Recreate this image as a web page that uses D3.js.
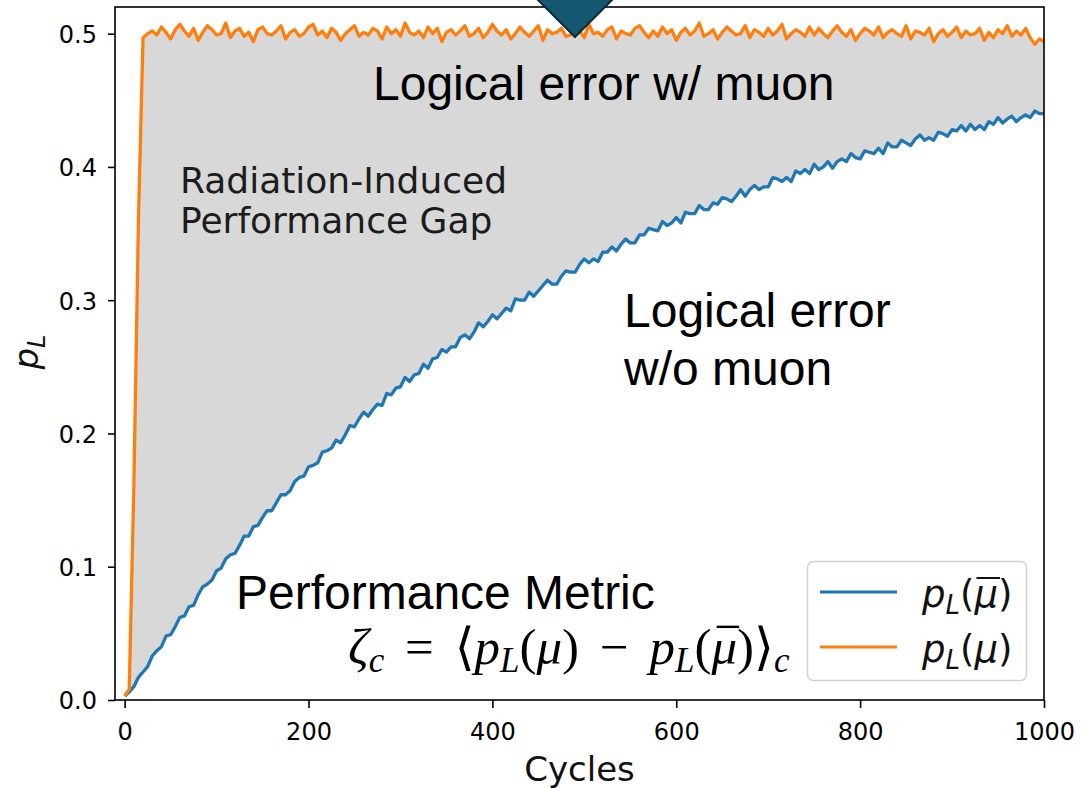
<!DOCTYPE html>
<html>
<head>
<meta charset="utf-8">
<script src="https://cdn.jsdelivr.net/npm/d3@7"></script>
<style>
  html, body { margin: 0; padding: 0; background: #fff; }
  svg { display: block; }
</style>
</head>
<body>
<div id="chart"></div>
<script>
// ---------- data ----------
const cycles = d3.range(0, 1001, 5); // sampled every 5 cycles

const pLNoMuon = [
0.003,0.006,0.010,0.017,0.021,0.025,0.033,0.037,0.040,0.048,
0.049,0.055,0.062,0.063,0.070,0.071,0.079,0.085,0.087,0.090,
0.097,0.099,0.106,0.109,0.110,0.116,0.123,0.123,0.130,0.131,
0.137,0.142,0.142,0.148,0.154,0.154,0.157,0.164,0.167,0.168,
0.175,0.176,0.178,0.186,0.187,0.189,0.195,0.193,0.199,0.206,
0.205,0.211,0.216,0.213,0.218,0.222,0.221,0.230,0.229,0.234,
0.235,0.242,0.239,0.244,0.245,0.252,0.249,0.256,0.257,0.263,
0.261,0.265,0.265,0.272,0.274,0.271,0.276,0.283,0.280,0.284,
0.289,0.286,0.290,0.294,0.292,0.301,0.300,0.300,0.306,0.303,
0.307,0.311,0.315,0.312,0.312,0.318,0.322,0.321,0.321,0.327,
0.331,0.328,0.331,0.329,0.336,0.336,0.340,0.337,0.342,0.346,
0.343,0.343,0.349,0.349,0.354,0.353,0.352,0.359,0.356,0.358,
0.362,0.358,0.366,0.365,0.365,0.371,0.368,0.368,0.373,0.372,
0.377,0.376,0.374,0.378,0.383,0.378,0.383,0.386,0.383,0.385,
0.385,0.392,0.391,0.389,0.392,0.389,0.397,0.395,0.398,0.395,
0.402,0.398,0.400,0.404,0.399,0.404,0.406,0.404,0.410,0.407,
0.406,0.412,0.411,0.410,0.414,0.410,0.418,0.415,0.415,0.420,
0.418,0.416,0.421,0.424,0.420,0.422,0.420,0.426,0.425,0.423,
0.428,0.427,0.431,0.427,0.432,0.428,0.431,0.428,0.434,0.432,
0.437,0.433,0.436,0.438,0.434,0.437,0.439,0.437,0.442,0.440,
0.440
];

const pLMuon = [
0.003,0.008,0.160,0.360,0.497,0.500,0.502,0.499,0.505,0.501,
0.496,0.503,0.507,0.502,0.498,0.504,0.495,0.501,0.506,0.503,
0.499,0.500,0.508,0.497,0.502,0.504,0.498,0.501,0.494,0.503,
0.505,0.500,0.499,0.502,0.506,0.496,0.501,0.503,0.498,0.500,
0.505,0.507,0.499,0.502,0.497,0.504,0.501,0.495,0.500,0.503,
0.506,0.498,0.501,0.499,0.504,0.502,0.496,0.505,0.500,0.503,
0.498,0.508,0.501,0.499,0.502,0.497,0.505,0.500,0.504,0.494,
0.501,0.503,0.499,0.502,0.506,0.498,0.500,0.504,0.497,0.501,
0.507,0.502,0.499,0.503,0.496,0.500,0.505,0.501,0.498,0.502,
0.506,0.495,0.503,0.500,0.501,0.504,0.498,0.499,0.505,0.502,
0.497,0.507,0.500,0.501,0.498,0.503,0.505,0.496,0.502,0.500,
0.499,0.504,0.506,0.501,0.497,0.502,0.498,0.505,0.500,0.503,
0.495,0.501,0.504,0.499,0.502,0.508,0.498,0.500,0.503,0.496,
0.501,0.505,0.502,0.499,0.500,0.506,0.497,0.503,0.501,0.498,
0.504,0.499,0.502,0.507,0.496,0.500,0.503,0.501,0.498,0.505,
0.499,0.504,0.500,0.497,0.502,0.506,0.501,0.498,0.503,0.495,
0.500,0.504,0.502,0.499,0.505,0.497,0.501,0.503,0.500,0.498,
0.506,0.496,0.502,0.501,0.499,0.504,0.494,0.500,0.503,0.498,
0.501,0.505,0.497,0.502,0.499,0.500,0.504,0.495,0.501,0.497,
0.503,0.500,0.506,0.498,0.502,0.499,0.504,0.497,0.492,0.496,
0.494
];

const xTicks = [0, 200, 400, 600, 800, 1000];
const yTicks = [0.0, 0.1, 0.2, 0.3, 0.4, 0.5];
const xLabel = "Cycles";
const seriesColors = { noMuon: "#1f77b4", muon: "#ff7f0e" };

// ---------- layout ----------
const W = 1081, H = 788;
const plot = { left: 115, right: 1044, top: 7, bottom: 700 };

const svg = d3.select("#chart").append("svg")
  .attr("width", W).attr("height", H);

const x = d3.scaleLinear().domain([-10.5, 1000]).range([plot.left, plot.right]);
const y = d3.scaleLinear().domain([0, 0.52]).range([plot.bottom, plot.top]);

const data = cycles.map((c, i) => ({ c, lo: pLNoMuon[i], hi: pLMuon[i] }));

svg.append("defs").append("clipPath").attr("id", "clip")
  .append("rect")
  .attr("x", plot.left).attr("y", plot.top)
  .attr("width", plot.right - plot.left).attr("height", plot.bottom - plot.top);

const g = svg.append("g").attr("clip-path", "url(#clip)");

// shaded gap
g.append("path")
  .datum(data)
  .attr("fill", "#d8d8d8")
  .attr("d", d3.area().x(d => x(d.c)).y0(d => y(d.lo)).y1(d => y(d.hi)));

// lines
const lineLo = d3.line().x(d => x(d.c)).y(d => y(d.lo));
const lineHi = d3.line().x(d => x(d.c)).y(d => y(d.hi));
g.append("path").datum(data)
  .attr("fill", "none").attr("stroke", seriesColors.noMuon)
  .attr("stroke-width", 3.3).attr("stroke-linejoin", "round")
  .attr("d", lineLo);
g.append("path").datum(data)
  .attr("fill", "none").attr("stroke", seriesColors.muon)
  .attr("stroke-width", 3.3).attr("stroke-linejoin", "round")
  .attr("d", lineHi);

// axes
const fontAxis = "'DejaVu Sans', sans-serif";
const xAxis = svg.append("g")
  .attr("transform", `translate(0,${plot.bottom})`)
  .call(d3.axisBottom(x).tickValues(xTicks).tickSize(8).tickSizeOuter(0).tickFormat(d3.format("d")));
xAxis.select(".domain").remove();
xAxis.selectAll(".tick line").attr("stroke", "#000").attr("stroke-width", 1.6);
xAxis.selectAll(".tick text")
  .attr("y", 40).attr("dy", null)
  .attr("font-family", fontAxis).attr("font-size", 24).attr("fill", "#000");

const yAxis = svg.append("g")
  .attr("transform", `translate(${plot.left},0)`)
  .call(d3.axisLeft(y).tickValues(yTicks).tickSize(7).tickSizeOuter(0).tickFormat(d3.format(".1f")));
yAxis.select(".domain").remove();
yAxis.selectAll(".tick line").attr("stroke", "#000").attr("stroke-width", 1.6);
yAxis.selectAll(".tick text")
  .attr("x", -18).attr("dy", "0.37em")
  .attr("font-family", fontAxis).attr("font-size", 24).attr("fill", "#000");

// frame
svg.append("rect")
  .attr("x", plot.left).attr("y", plot.top)
  .attr("width", plot.right - plot.left).attr("height", plot.bottom - plot.top)
  .attr("fill", "none").attr("stroke", "#000").attr("stroke-width", 1.6);

// axis labels
svg.append("text")
  .attr("x", (plot.left + plot.right) / 2).attr("y", 781)
  .attr("text-anchor", "middle")
  .attr("font-family", fontAxis).attr("font-size", 34).attr("fill", "#111")
  .text(xLabel);

const yl = svg.append("text")
  .attr("transform", "translate(38,352) rotate(-90)")
  .attr("text-anchor", "middle")
  .attr("font-family", fontAxis).attr("font-size", 34).attr("fill", "#111");
yl.append("tspan").attr("font-style", "italic").text("p");
yl.append("tspan").attr("font-style", "italic").attr("font-size", 24).attr("dy", 7).text("L");

// annotations
const fontArial = "'Liberation Sans', Arial, sans-serif";
function note(xp, yp, txt, size, family, color) {
  return svg.append("text").attr("x", xp).attr("y", yp)
    .attr("font-family", family).attr("font-size", size).attr("fill", color || "#000")
    .text(txt);
}
note(373, 100, "Logical error w/ muon", 48, fontArial);
note(180, 193, "Radiation-Induced", 36, fontAxis, "#1c1c1c");
note(180, 233, "Performance Gap", 36, fontAxis, "#1c1c1c");
note(624, 327, "Logical error", 48, fontArial);
note(624, 385, "w/o muon", 48, fontArial);
note(236, 609, "Performance Metric", 48, fontArial);

// formula
const fFs = 51, subFs = 35, subDy = 8;
const ff = svg.append("text").attr("x", 348).attr("y", 664)
  .attr("font-family", "'Liberation Serif', 'DejaVu Serif', serif")
  .attr("font-size", fFs).attr("fill", "#000");
const spacers = [];
function part(txt, opts = {}) {
  const t = ff.append("tspan").text(txt);
  if (opts.italic) t.attr("font-style", "italic");
  if (opts.size) t.attr("font-size", opts.size);
  if (opts.dy) t.attr("dy", opts.dy);
  if (opts.dx) { t.attr("dx", opts.dx); spacers.push([t, opts.dx]); }
  return t;
}
part("ζ", { italic: true });
part("c", { italic: true, size: subFs, dy: subDy });
part("=", { dy: -subDy, dx: 8 });
part("⟨", { dx: 8 });
part("p", { italic: true });
part("L", { italic: true, size: subFs, dy: subDy });
part("(", { dy: -subDy });
part("μ", { italic: true });
part(")");
part("−", { dx: 8 });
part("p", { italic: true, dx: 8 });
part("L", { italic: true, size: subFs, dy: subDy });
part("(", { dy: -subDy });
const muBar = part("μ", { italic: true });
part(")⟩");
part("c", { italic: true, size: subFs, dy: subDy });
// stretch operator spacing so the formula spans its width in the reference
const targetW = 442;
const curW = ff.node().getBBox().width;
const extra = (targetW - curW) / spacers.length;
spacers.forEach(([t, dx]) => t.attr("dx", Math.max(2, dx + extra)));
{
  const b = muBar.node().getBBox();
  svg.append("line")
    .attr("x1", b.x + fFs * 0.12).attr("x2", b.x + b.width + fFs * 0.04)
    .attr("y1", b.y + b.height * 0.14).attr("y2", b.y + b.height * 0.14)
    .attr("stroke", "#000").attr("stroke-width", 2.4);
}

// legend
const lg = svg.append("g");
lg.append("rect")
  .attr("x", 807.5).attr("y", 561.5).attr("width", 219).attr("height", 119)
  .attr("rx", 6).attr("fill", "#fff").attr("fill-opacity", 0.85)
  .attr("stroke", "#d0d0d0").attr("stroke-width", 1.5);
const legendItems = [
  { color: seriesColors.noMuon, yy: 592, bar: true },
  { color: seriesColors.muon, yy: 647, bar: false }
];
const lgFs = 37;
legendItems.forEach(it => {
  lg.append("line").attr("x1", 820).attr("x2", 897).attr("y1", it.yy).attr("y2", it.yy)
    .attr("stroke", it.color).attr("stroke-width", 3);
  const t = lg.append("text").attr("x", 922).attr("y", it.yy + 15)
    .attr("font-family", fontAxis).attr("font-size", lgFs).attr("fill", "#111");
  t.append("tspan").attr("font-style", "italic").text("p");
  t.append("tspan").attr("font-style", "italic").attr("font-size", 26).attr("dy", 7).text("L");
  t.append("tspan").attr("dy", -7).text("(");
  const mu = t.append("tspan").attr("font-style", "italic").text("μ");
  t.append("tspan").text(")");
  if (it.bar) {
    const b = mu.node().getBBox();
    lg.append("line")
      .attr("x1", b.x + 3).attr("x2", b.x + b.width + 2)
      .attr("y1", b.y + 5).attr("y2", b.y + 5)
      .attr("stroke", "#111").attr("stroke-width", 2);
  }
});

// decorative marker at top
svg.append("path")
  .attr("d", "M537,-1 L575,37 L613,-1 L575,-39 Z")
  .attr("fill", "#14576f").attr("stroke", "#0b2b38").attr("stroke-width", 2);
</script>
</body>
</html>
